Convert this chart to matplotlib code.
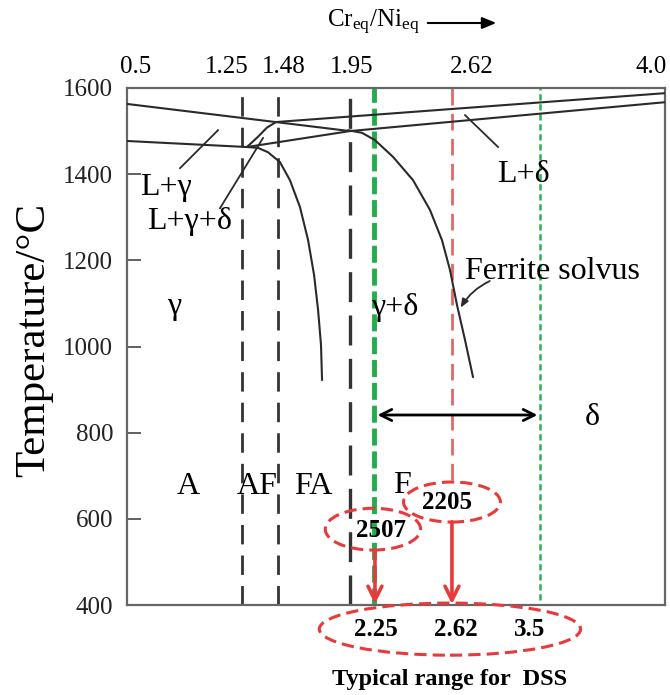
import matplotlib
matplotlib.use("Agg")
import matplotlib.pyplot as plt
from matplotlib.patches import Ellipse, FancyArrowPatch

plt.rcParams['font.family'] = ['Liberation Serif', 'DejaVu Serif']
plt.rcParams['mathtext.fontset'] = 'custom'
plt.rcParams['mathtext.rm'] = 'Liberation Serif'
plt.rcParams['mathtext.it'] = 'Liberation Serif:italic'

# ---------------- data ----------------
top_tick_labels = ["0.5", "1.25", "1.48", "1.95", "2.62", "4.0"]
top_tick_label_x = [0.555, 1.146, 1.517, 1.959, 2.740, 3.91]   # where the labels sit
y_ticks = [400, 600, 800, 1000, 1200, 1400, 1600]

liq_left_x = [0.5, 1.95]
liq_left_T = [1563, 1500]
sol_left_x = [0.5, 1.28]
sol_left_T = [1477, 1463]
three_low_x = [1.28, 1.95]
three_low_T = [1463, 1500]
three_up_x = [1.28, 1.35, 1.41, 1.47]
three_up_T = [1463, 1486, 1508, 1521]
upper_right_x = [1.47, 4.0]
upper_right_T = [1521, 1588]
lower_right_x = [1.95, 4.0]
lower_right_T = [1500, 1567]

aus_solvus_x = [1.281, 1.352, 1.417, 1.495, 1.560, 1.625, 1.678, 1.717, 1.743, 1.762, 1.769]
aus_solvus_T = [1463, 1461, 1451, 1428, 1386, 1324, 1247, 1166, 1085, 1004, 922]

fer_solvus_x = [1.938, 2.029, 2.113, 2.231, 2.361, 2.471, 2.549, 2.601, 2.647, 2.699, 2.751]
fer_solvus_T = [1502, 1496, 1479, 1440, 1386, 1317, 1247, 1178, 1096, 1015, 929]

black_dash_x = [1.25, 1.48, 1.95]
dss_low_x = 2.11      # drawn position of the 2.25 line
dss_mid_x = 2.614     # 2.62 line
dss_high_x = 3.19     # drawn position of the 3.5 line
dss_labels = ["2.25", "2.62", "3.5"]
dss_label_x = [2.12, 2.64, 3.12]

region_labels = [("γ", 0.81, 1092), ("γ+δ", 2.24, 1090), ("δ", 3.53, 836),
                 ("A", 0.90, 674), ("AF", 1.35, 674), ("FA", 1.71, 674), ("F", 2.29, 678)]

grade_labels = ["2507", "2205"]
grade_centers = [(2.10, 576), (2.614, 639)]
grade_label_pos = [(2.15, 574), (2.58, 638)]

# ---------------- figure ----------------
W, H = 670, 695
fig = plt.figure(figsize=(W / 100, H / 100), dpi=100)
ax = fig.add_axes([127 / W, 1 - 605 / H, 538 / W, 517 / H])
ax.set_xlim(0.5, 4.0)
ax.set_ylim(400, 1600)

for s in ax.spines.values():
    s.set_color('#666666')
    s.set_linewidth(1.6)

ax.set_xticks([])
ax.set_yticks(y_ticks)
ax.set_yticklabels([str(v) for v in y_ticks], fontsize=18, color='#222222')
ax.tick_params(axis='y', direction='in', length=10, width=1.3, color='#555555', pad=10)

lc = '#2a2a2a'
lw = 1.5
for xs, ts in [(liq_left_x, liq_left_T), (sol_left_x, sol_left_T),
               (three_low_x, three_low_T), (three_up_x, three_up_T),
               (upper_right_x, upper_right_T), (lower_right_x, lower_right_T),
               (aus_solvus_x, aus_solvus_T), (fer_solvus_x, fer_solvus_T)]:
    ax.plot(xs, ts, color=lc, lw=lw, solid_capstyle='round', zorder=3)

# black dashed verticals
for i, xv in enumerate(black_dash_x):
    ax.plot([xv, xv], [400, 1600], color='#333333', lw=2.0 if i < 2 else 2.4,
            dashes=(7, 4) if i < 2 else (9, 4), zorder=2)

# coloured verticals
ax.plot([dss_low_x, dss_low_x], [400, 1600], color='#1fae4b', lw=3.5, dashes=(3.5, 1.2), zorder=2)
ax.plot([dss_mid_x, dss_mid_x], [690, 1600], color='#e06a6a', lw=2.0, dashes=(6, 3), zorder=2)
ax.plot([dss_high_x, dss_high_x], [412, 1600], color='#2db052', lw=1.8, dashes=(2.5, 1.5), zorder=2)

# top tick labels
for xv, lab in zip(top_tick_label_x, top_tick_labels):
    ax.text(xv, 1623, lab, ha='center', va='bottom', fontsize=18, clip_on=False)

# top axis title with arrow
fig.text(327 / W, 1 - 22 / H, r"Cr$_{\mathrm{eq}}$/Ni$_{\mathrm{eq}}$", ha='left', va='center', fontsize=18)
fig.patches.append(FancyArrowPatch((425 / W, 1 - 23 / H), (499 / W, 1 - 23 / H),
                   transform=fig.transFigure, arrowstyle='-|>,head_length=0.6,head_width=0.25',
                   color='black', lw=1.5, mutation_scale=14))

# y label
fig.text(34 / W, 1 - 340 / H, "Temperature/°C", rotation=90, ha='center', va='center', fontsize=31)

# phase labels with pointer lines
fs = 23
ax.text(0.754, 1368, "L+γ", ha='center', va='center', fontsize=fs)
ax.plot([0.845, 1.092], [1414, 1502], color=lc, lw=1.3)
ax.text(0.91, 1289, "L+γ+δ", ha='center', va='center', fontsize=fs)
ax.plot([1.105, 1.385], [1321, 1484], color=lc, lw=1.3)
ax.text(3.08, 1400, "L+δ", ha='center', va='center', fontsize=fs)
ax.plot([2.699, 2.914], [1537, 1463], color=lc, lw=1.3)
ax.text(3.265, 1173, "Ferrite solvus", ha='center', va='center', fontsize=fs)
ax.annotate("", xy=(2.67, 1090), xytext=(2.86, 1152),
            arrowprops=dict(arrowstyle='-|>,head_length=0.5,head_width=0.2', color=lc, lw=1.3,
                            shrinkA=0, shrinkB=0, connectionstyle='arc3,rad=0.15'))

for lab, xv, tv in region_labels:
    ax.text(xv, tv, lab, ha='center', va='center', fontsize=fs)

# double arrow for typical range
ax.annotate("", xy=(3.17, 841), xytext=(2.13, 841),
            arrowprops=dict(arrowstyle='<->,head_length=0.8,head_width=0.4', color='black', lw=2,
                            shrinkA=0, shrinkB=0))

red = '#e83a3a'
# grade ellipses
for (cx, ct), w, h in zip(grade_centers, [0.62, 0.63], [97, 93]):
    ax.add_patch(Ellipse((cx, ct), w, h, fill=False, ec=red, lw=2.2, ls=(0, (4, 2)), zorder=4))
for lab, (lx, lt) in zip(grade_labels, grade_label_pos):
    ax.text(lx, lt, lab, ha='center', va='center', fontsize=18, fontweight='bold', zorder=5)

# red arrows
for xv, t0 in [(2.113, 528), (2.614, 593)]:
    ax.annotate("", xy=(xv, 402), xytext=(xv, t0),
                arrowprops=dict(arrowstyle='->,head_length=1.0,head_width=0.5', color=red, lw=2.6,
                                shrinkA=0, shrinkB=0), zorder=6)

# bottom ellipse and labels (outside axes)
ax.add_patch(Ellipse((2.601, 344), 1.70, 121, fill=False, ec=red, lw=2.2, ls=(0, (4, 2)),
                     clip_on=False, zorder=4))
for xv, lab in zip(dss_label_x, dss_labels):
    ax.text(xv, 342, lab, ha='center', va='center', fontsize=18, fontweight='bold', clip_on=False)

fig.text(450 / W, 1 - 679 / H, "Typical range for  DSS", ha='center', va='center',
         fontsize=17.5, fontweight='bold')

fig.savefig("out.png", dpi=100, facecolor='white')
